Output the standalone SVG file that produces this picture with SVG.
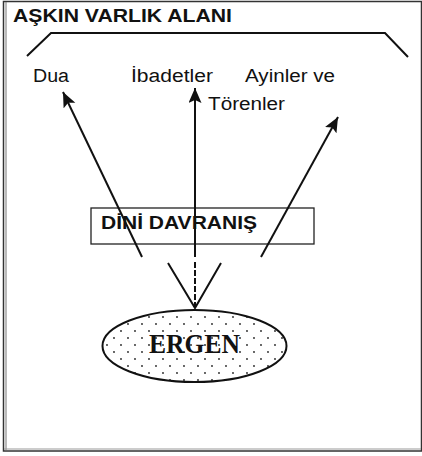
<svg xmlns="http://www.w3.org/2000/svg" width="422" height="456" viewBox="0 0 422 456">
<style>
.lbl{font-family:"Liberation Sans",Arial,sans-serif;font-size:18px;fill:#111}
.bold{font-weight:bold}
.ln{stroke:#111;stroke-width:2;fill:none}
</style>
<defs>
<marker id="ah" markerUnits="userSpaceOnUse" markerWidth="18" markerHeight="14" refX="15" refY="6.5" orient="auto">
<path d="M0,0 L15,6.5 L0,13 L3,6.5 Z" fill="#111"/>
</marker>
<pattern id="dots" width="14" height="14" patternUnits="userSpaceOnUse">
<rect width="14" height="14" fill="#fff"/>
<circle cx="2" cy="2" r="0.9" fill="#222"/>
<circle cx="9" cy="9" r="0.9" fill="#222"/>
</pattern>
</defs>
<rect width="422" height="456" fill="#fff"/>
<g id="frame">
<rect x="3.5" y="1.5" width="418" height="449.5" fill="none" stroke="#333" stroke-width="1.5"/>
<line x1="6" y1="2" x2="6" y2="450" stroke="#777" stroke-width="1"/>
<line x1="4" y1="449" x2="421" y2="449" stroke="#999" stroke-width="1"/>
</g>
<g id="askin-varlik-alani">
<text class="lbl bold" x="13" y="22" textLength="219" lengthAdjust="spacingAndGlyphs">AŞKIN VARLIK ALANI</text>
<path class="ln" d="M27,56 L51,33 L385,33 L408,57"/>
</g>
<g id="dua"><text class="lbl" x="33" y="82" textLength="36" lengthAdjust="spacingAndGlyphs">Dua</text></g>
<g id="ibadetler"><text class="lbl" x="131" y="82" textLength="82" lengthAdjust="spacingAndGlyphs">İbadetler</text></g>
<g id="ayinler">
<text class="lbl" x="245" y="82" textLength="90" lengthAdjust="spacingAndGlyphs">Ayinler ve</text>
<text class="lbl" x="208" y="110" textLength="77" lengthAdjust="spacingAndGlyphs">Törenler</text>
</g>
<g id="dini-davranis">
<rect x="91" y="208" width="223" height="36" fill="none" stroke="#222" stroke-width="1.3"/>
<text class="lbl bold" x="101" y="229" font-size="19" textLength="156" lengthAdjust="spacingAndGlyphs">DİNİ DAVRANIŞ</text>
</g>
<g id="ergen">
<ellipse cx="194.5" cy="346" rx="92" ry="36" fill="url(#dots)" stroke="#111" stroke-width="2"/>
<text x="149" y="353" font-family="'Liberation Serif','Times New Roman',serif" font-weight="bold" font-size="27" fill="#111" textLength="91" lengthAdjust="spacingAndGlyphs">ERGEN</text>
</g>
<g id="connectors">
<line class="ln" x1="142" y1="257" x2="63" y2="92" marker-end="url(#ah)"/>
<line class="ln" x1="195" y1="257" x2="195" y2="88" marker-end="url(#ah)"/>
<line class="ln" x1="261" y1="257" x2="338" y2="117" marker-end="url(#ah)"/>
<line class="ln" x1="195" y1="262" x2="195" y2="308" stroke-dasharray="6,2"/>
<path class="ln" d="M168,263 L195,308 L221,263"/>
</g>
</svg>
